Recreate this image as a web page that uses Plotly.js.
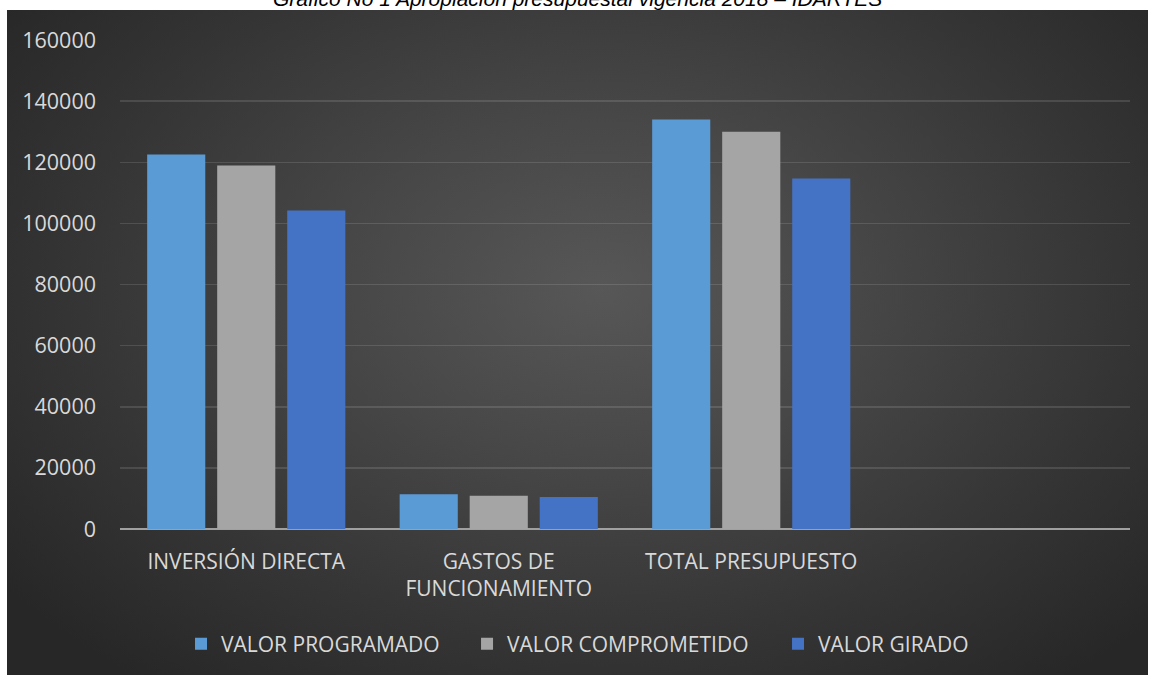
<!DOCTYPE html>
<html>
<head>
<meta charset="utf-8">
<script src="https://cdn.plot.ly/plotly-3.0.1.min.js"></script>
<style>
  html, body { margin: 0; padding: 0; background: #ffffff; width: 1152px; height: 675px; overflow: hidden; }
  #bg { position: absolute; left: 7px; top: 10px; width: 1141px; height: 665px;
        background: radial-gradient(ellipse 65% 75% at 52% 42%, #575757 0%, #474747 35%, #353535 70%, #272727 100%); }
  #chart { position: absolute; left: 0; top: 0; width: 1152px; height: 675px; }
</style>
</head>
<body>
<div id="bg"></div>
<div id="chart"></div>
<script>
const categories = ['INVERSIÓN DIRECTA', 'GASTOS DE<br>FUNCIONAMIENTO', 'TOTAL PRESUPUESTO'];
const seriesNames = ['VALOR PROGRAMADO', 'VALOR COMPROMETIDO', 'VALOR GIRADO'];
const valorProgramado = [122500, 11400, 134000];
const valorComprometido = [118900, 10900, 130000];
const valorGirado = [104200, 10500, 114700];
const yTicks = [0, 20000, 40000, 60000, 80000, 100000, 120000, 140000, 160000];
const titleText = 'Gráfico No 1 Apropiación presupuestal vigencia 2018 – IDARTES';

const colors = ['#5B9BD5', '#A5A5A5', '#4472C4'];
const values = [valorProgramado, valorComprometido, valorGirado];
const legendIds = ['legend', 'legend2', 'legend3'];
const legendX = [0.0604, 0.3436, 0.6515];

const traces = values.map((v, i) => ({
  type: 'bar',
  name: seriesNames[i],
  x: categories,
  y: v,
  legend: legendIds[i],
  marker: { color: colors[i], line: { width: 0 } },
  hoverinfo: 'x+y+name'
}));

const labelFont = { family: 'Open Sans, sans-serif', size: 21, color: '#d9d9d9' };
const tickFont = { family: 'Open Sans, sans-serif', size: 21.5, color: '#d9d9d9' };

function legendAt(x) {
  return {
    orientation: 'h',
    x: x, xanchor: 'left',
    y: -0.2327, yanchor: 'middle',
    font: labelFont,
    bgcolor: 'rgba(0,0,0,0)'
  };
}

const layout = {
  width: 1152,
  height: 675,
  margin: { l: 120, r: 22, t: 40, b: 145 },
  paper_bgcolor: 'rgba(0,0,0,0)',
  plot_bgcolor: 'rgba(0,0,0,0)',
  barmode: 'group',
  bargap: 0.168,
  bargroupgap: 0.17,
  showlegend: true,
  legend: legendAt(legendX[0]),
  legend2: legendAt(legendX[1]),
  legend3: legendAt(legendX[2]),
  xaxis: {
    type: 'category',
    range: [-0.5, 3.5],
    showgrid: false,
    showline: false,
    zeroline: false,
    ticks: '',
    tickfont: labelFont,
    ticklabelstandoff: 18,
    fixedrange: true
  },
  yaxis: {
    range: [0, 160000],
    tickvals: yTicks,
    ticktext: yTicks.map(String),
    showgrid: true,
    gridcolor: 'rgba(255,255,255,0.12)',
    gridwidth: 1.5,
    zeroline: true,
    zerolinecolor: '#a0a0a0',
    zerolinewidth: 2,
    showline: false,
    ticks: '',
    tickfont: tickFont,
    ticklabelstandoff: 23,
    fixedrange: true
  },
  annotations: [{
    text: titleText,
    xref: 'paper', yref: 'paper',
    x: 0.4525, y: 1,
    xanchor: 'center', yanchor: 'bottom',
    yshift: 28,
    showarrow: false,
    font: { family: 'Liberation Sans, Arial, sans-serif', size: 21, color: '#000000', style: 'italic' }
  }]
};

Plotly.newPlot('chart', traces, layout, { displayModeBar: false, staticPlot: true });
</script>
</body>
</html>
